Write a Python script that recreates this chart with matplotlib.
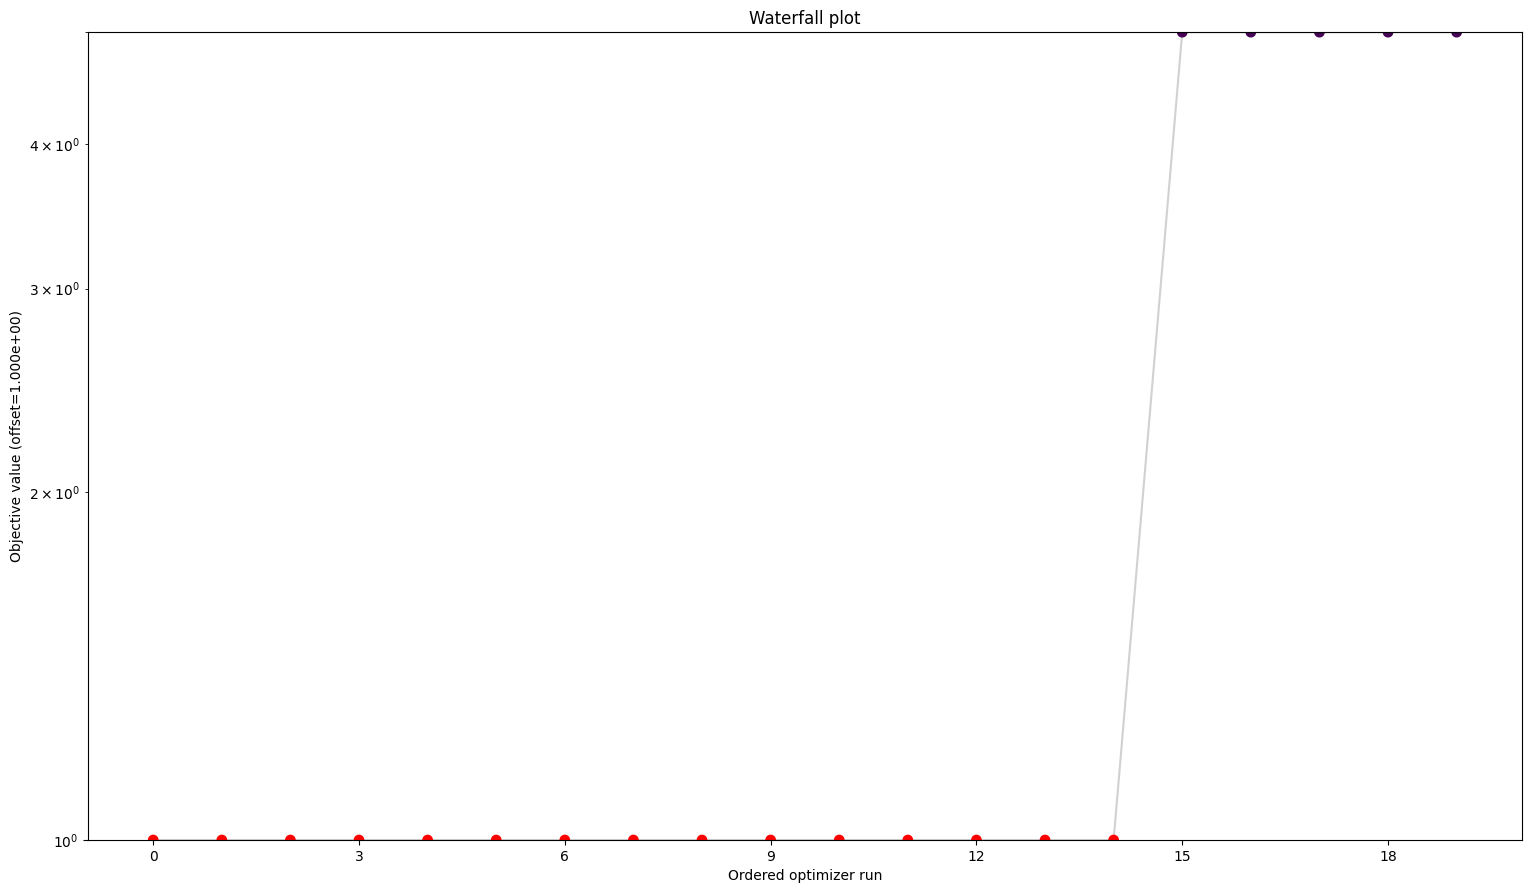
import numpy as np
import matplotlib
matplotlib.use('Agg')
import matplotlib.pyplot as plt

# Objective values per ordered optimizer run (offset already added)
runs = list(range(20))
fvals = [1.0] * 15 + [5.0] * 5
# first 15 runs converged to the best value -> red, the rest viridis colour
colors = ['red'] * 15 + ['#440154'] * 5

fig, ax = plt.subplots(figsize=(15.31, 8.94), dpi=100)
fig.subplots_adjust(left=0.0575, right=0.994, top=0.964, bottom=0.0604)

ax.plot(runs, fvals, color=(0.7, 0.7, 0.7, 0.6), linewidth=1.5, zorder=1)
ax.scatter(runs, fvals, c=colors, s=45, zorder=2)

ax.set_yscale('log')
ax.set_ylim(1.0, 5.0)
ax.xaxis.set_major_locator(matplotlib.ticker.MaxNLocator(integer=True))

ax.set_xlabel('Ordered optimizer run')
ax.set_ylabel('Objective value (offset=1.000e+00)')
ax.set_title('Waterfall plot')

fig.savefig('out.png', dpi=100)
